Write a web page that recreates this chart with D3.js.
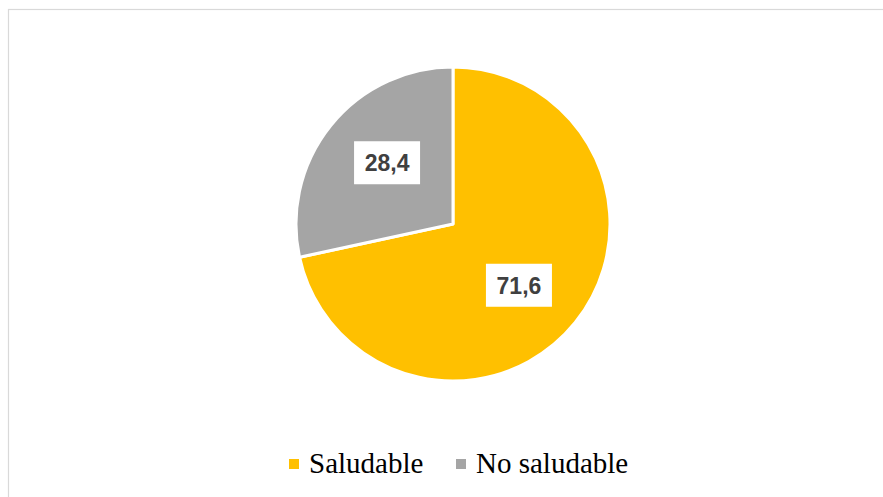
<!DOCTYPE html>
<html>
<head>
<meta charset="utf-8">
<script src="https://cdn.jsdelivr.net/npm/d3@7"></script>
<style>
  html, body { margin: 0; padding: 0; background: #fff; }
  svg { display: block; }
</style>
</head>
<body>
<svg id="chart" width="883" height="497"></svg>
<script>
// Share of the sample by category (percent)
const categories = ["Saludable", "No saludable"];
const values = [71.6, 28.4];
const valueLabels = ["71,6", "28,4"];
const colors = ["#FFC000", "#A5A5A5"];

const width = 883, height = 497;
const svg = d3.select("#chart");

// Outer frame
svg.append("rect")
  .attr("x", 8.5).attr("y", 9.5)
  .attr("width", width + 10).attr("height", height + 10)
  .attr("fill", "#fff")
  .attr("stroke", "#D9D9D9").attr("stroke-width", 1.2);

const cx = 453, cy = 224, radius = 157;

const pie = d3.pie().sort(null).value(d => d.value);
const data = pie(categories.map((c, i) => ({ name: c, value: values[i], label: valueLabels[i], color: colors[i] })));

const arc = d3.arc().innerRadius(0).outerRadius(radius);

const g = svg.append("g").attr("transform", `translate(${cx},${cy})`);

g.selectAll("path.slice")
  .data(data)
  .join("path")
  .attr("class", "slice")
  .attr("d", arc)
  .attr("fill", d => d.data.color)
  .attr("stroke", "#fff")
  .attr("stroke-width", 3)
  .attr("stroke-linejoin", "round");

// Value labels in white boxes, placed along each slice's bisector
const labelRadius = 90, labelTurn = 0.07;
const labels = g.selectAll("g.lbl")
  .data(data)
  .join("g")
  .attr("class", "lbl")
  .attr("transform", d => {
    const a = (d.startAngle + d.endAngle) / 2 + labelTurn;
    return `translate(${labelRadius * Math.sin(a)},${-labelRadius * Math.cos(a)})`;
  });

labels.append("rect")
  .attr("x", -33).attr("y", -21.5)
  .attr("width", 66).attr("height", 43)
  .attr("fill", "#fff");

labels.append("text")
  .attr("text-anchor", "middle")
  .attr("dy", "0.36em")
  .attr("font-family", "'Liberation Sans', Arial, sans-serif")
  .attr("font-weight", "bold")
  .attr("font-size", 23)
  .attr("fill", "#404040")
  .text(d => d.data.label);

// Legend
const legend = svg.append("g").attr("transform", "translate(0,473)");
const legendX = [289, 456];
const items = legend.selectAll("g.item")
  .data(categories)
  .join("g")
  .attr("class", "item")
  .attr("transform", (d, i) => `translate(${legendX[i]},0)`);

items.append("rect")
  .attr("x", 0).attr("y", -14)
  .attr("width", 10).attr("height", 10)
  .attr("fill", (d, i) => colors[i]);

items.append("text")
  .attr("x", 20).attr("y", 0)
  .attr("font-family", "'Liberation Serif', 'Times New Roman', serif")
  .attr("font-size", 29)
  .attr("fill", "#000")
  .text(d => d);
</script>
</body>
</html>
